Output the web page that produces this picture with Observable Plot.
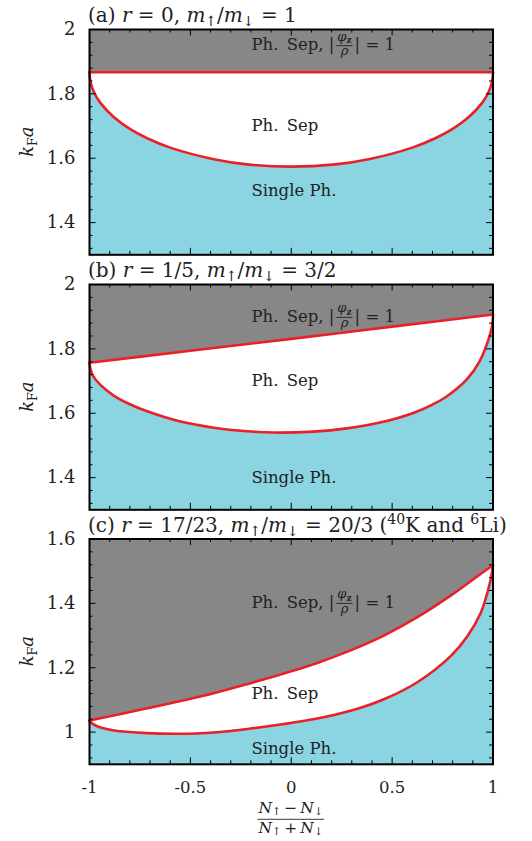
<!DOCTYPE html>
<html><head><meta charset="utf-8">
<script src="https://cdn.jsdelivr.net/npm/d3@7"></script>
<script src="https://cdn.jsdelivr.net/npm/@observablehq/plot@0.6"></script>
<style>
body{margin:0;background:#fff;}
#chart{width:532px;}
#chart svg{display:block;overflow:visible;}
</style></head><body><div id="chart"></div>
<script>
// ---------------- data ----------------
// panel (a): r = 0, m_up/m_down = 1
const upperAx = [-1, 1];
const upperAy = [1.867, 1.867];
const lowerAx = [-1, -0.995, -0.98, -0.946, -0.88, -0.8, -0.714, -0.6, -0.384, -0.219, 0, 0.219, 0.384, 0.6, 0.714, 0.8, 0.88, 0.946, 0.98, 0.995, 1];
const lowerAy = [1.867, 1.838, 1.808, 1.772, 1.728, 1.691, 1.662, 1.633, 1.597, 1.581, 1.574, 1.581, 1.597, 1.633, 1.662, 1.691, 1.728, 1.772, 1.808, 1.838, 1.867];
// panel (b): r = 1/5, m_up/m_down = 3/2
const upperBx = [-1, -0.5, 0, 0.5, 1];
const upperBy = [1.757, 1.794, 1.831, 1.869, 1.907];
const lowerBx = [-1, -0.995, -0.98, -0.946, -0.88, -0.8, -0.714, -0.549, -0.384, -0.219, -0.088, 0.11, 0.275, 0.44, 0.605, 0.7, 0.77, 0.87, 0.935, 0.977, 0.995, 1];
const lowerBy = [1.757, 1.736, 1.714, 1.688, 1.655, 1.628, 1.606, 1.574, 1.555, 1.544, 1.540, 1.543, 1.553, 1.571, 1.601, 1.627, 1.652, 1.705, 1.763, 1.828, 1.870, 1.907];
// panel (c): r = 17/23, m_up/m_down = 20/3
const upperCx = [-1, -0.714, -0.384, -0.202, -0.037, 0.129, 0.294, 0.459, 0.625, 0.79, 0.922, 1];
const upperCy = [1.036, 1.074, 1.121, 1.152, 1.182, 1.215, 1.254, 1.300, 1.357, 1.424, 1.484, 1.519];
const lowerCx = [-1, -0.98, -0.945, -0.879, -0.714, -0.565, -0.384, -0.202, -0.037, 0.129, 0.294, 0.459, 0.625, 0.79, 0.873, 0.939, 0.975, 0.992, 1];
const lowerCy = [1.036, 1.024, 1.014, 1.005, 0.997, 0.995, 0.999, 1.011, 1.025, 1.042, 1.066, 1.102, 1.155, 1.236, 1.298, 1.370, 1.440, 1.485, 1.519];

// axes
const xDomain = [-1, 1];
const xTickLabels = [-1, -0.5, 0, 0.5, 1];
const xMajor = [-0.5, 0, 0.5];
const xMinor = [-0.9, -0.8, -0.7, -0.6, -0.4, -0.3, -0.2, -0.1, 0.1, 0.2, 0.3, 0.4, 0.6, 0.7, 0.8, 0.9];
const yDomainAB = [1.3, 2.0];
const yTicksAB = [1.4, 1.6, 1.8, 2];
const yMajorAB = [1.4, 1.6, 1.8];
const yMinorAB = [1.32, 1.36, 1.44, 1.48, 1.52, 1.56, 1.64, 1.68, 1.72, 1.76, 1.84, 1.88, 1.92, 1.96];
const yDomainC = [0.9, 1.6];
const yTicksC = [1, 1.2, 1.4, 1.6];
const yMajorC = [1, 1.2, 1.4];
const yMinorC = [0.92, 0.96, 1.04, 1.08, 1.12, 1.16, 1.24, 1.28, 1.32, 1.36, 1.44, 1.48, 1.52, 1.56];

// region labels (x position, and y baselines per panel)
const regionLabelX = -0.195;
const labelYA = [1.935, 1.683, 1.481];
const labelYB = [1.883, 1.683, 1.381];
const labelYC = [1.385, 1.102, 0.932];

// titles as [text, style] parts
const titleA = [["(a) ", ""], ["r", "i"], [" = 0, ", ""], ["m", "i"], ["↑", "sub"], ["/", ""], ["m", "i"], ["↓", "sub"], [" = 1", ""]];
const titleB = [["(b) ", ""], ["r", "i"], [" = 1/5, ", ""], ["m", "i"], ["↑", "sub"], ["/", ""], ["m", "i"], ["↓", "sub"], [" = 3/2", ""]];
const titleC = [["(c) ", ""], ["r", "i"], [" = 17/23, ", ""], ["m", "i"], ["↑", "sub"], ["/", ""], ["m", "i"], ["↓", "sub"], [" = 20/3 (", ""], ["40", "sup"], ["K and ", ""], ["6", "sup"], ["Li)", ""]];
const titleWidths = [215, 262, 433];

// ---------------- style ----------------
const FONT = "'DejaVu Serif', serif";
const TXT = "#222";
const GRAY = "#878787", CYAN = "#8bd4e2", RED = "#ea2027";
const W = 532, ML = 89, MR = 39.5, FH = 225.3;
const MAJ = 6.5, MIN = 3.5;
const CURVE = "catmull-rom";

function mathText(sel, x, y, parts, fs, opts = {}) {
  const t = sel.append("text").attr("x", x).attr("y", y).attr("font-size", fs)
    .attr("font-family", FONT).attr("fill", TXT).style("white-space", "pre")
    .attr("text-anchor", opts.anchor || "start");
  if (opts.transform) t.attr("transform", opts.transform);
  const subShift = opts.subShift != null ? opts.subShift : 0.22;
  let shift = 0;
  for (const [s, k] of parts) {
    const toks = k.split(" ");
    const ts = t.append("tspan").text(s);
    let target = 0, size = fs;
    if (toks.includes("sub")) { target = subShift * fs; size = 0.7 * fs; }
    if (toks.includes("sup")) { target = -0.4 * fs; size = 0.7 * fs; }
    if (toks.includes("i")) ts.attr("font-style", "italic");
    if (toks.includes("b")) ts.attr("font-weight", "bold");
    ts.attr("font-size", size);
    if (target !== shift) { ts.attr("dy", target - shift); shift = target; }
  }
  return t;
}

function fraction(sel, x0, barY, num, den, fs, numUp, denDown, anchor, subShift) {
  const n = mathText(sel, 0, barY - numUp, num, fs, {anchor: "middle", subShift});
  const d = mathText(sel, 0, barY + denDown, den, fs, {anchor: "middle", subShift});
  const wn = n.node().getComputedTextLength(), wd = d.node().getComputedTextLength();
  const fw = Math.max(wn, wd) + 2;
  const cx = anchor === "middle" ? x0 : x0 + fw / 2;
  n.attr("x", cx); d.attr("x", cx);
  sel.append("line").attr("x1", cx - fw / 2).attr("x2", cx + fw / 2)
    .attr("y1", barY).attr("y2", barY).attr("stroke", TXT).attr("stroke-width", 0.9);
  return fw;
}

const panels = [
  {title: titleA, tw: titleWidths[0], yDomain: yDomainAB, yTicks: yTicksAB, yMajor: yMajorAB, yMinor: yMinorAB,
   upX: upperAx, upY: upperAy, loX: lowerAx, loY: lowerAy, labelY: labelYA, height: 255, top: 29, xAxis: false},
  {title: titleB, tw: titleWidths[1], yDomain: yDomainAB, yTicks: yTicksAB, yMajor: yMajorAB, yMinor: yMinorAB,
   upX: upperBx, upY: upperBy, loX: lowerBx, loY: lowerBy, labelY: labelYB, height: 255, top: 29, xAxis: false},
  {title: titleC, tw: titleWidths[2], yDomain: yDomainC, yTicks: yTicksC, yMajor: yMajorC, yMinor: yMinorC,
   upX: upperCx, upY: upperCy, loX: lowerCx, loY: lowerCy, labelY: labelYC, height: 331, top: 28.5, xAxis: true}
];

const container = document.getElementById("chart");
const FW = W - ML - MR;

for (const p of panels) {
  const up = p.upX.map((x, i) => ({x, y: p.upY[i]}));
  const lo = p.loX.map((x, i) => ({x, y: p.loY[i]}));
  const y0 = p.yDomain[0];
  const marks = [
    Plot.frame({fill: GRAY, stroke: null}),
    Plot.areaY(up, {x: "x", y1: () => y0, y2: "y", fill: "white", curve: CURVE}),
    Plot.areaY(lo, {x: "x", y1: () => y0, y2: "y", fill: CYAN, curve: CURVE}),
    Plot.line(up, {x: "x", y: "y", stroke: RED, strokeWidth: 2.6, curve: CURVE}),
    Plot.line(lo, {x: "x", y: "y", stroke: RED, strokeWidth: 2.6, curve: CURVE}),
    // inward ticks
    Plot.tickX(xMajor, {x: d => d, insetTop: FH - MAJ, stroke: "black", strokeWidth: 1}),
    Plot.tickX(xMinor, {x: d => d, insetTop: FH - MIN, stroke: "black", strokeWidth: 1}),
    Plot.tickX(xMajor, {x: d => d, insetBottom: FH - MAJ, stroke: "black", strokeWidth: 1}),
    Plot.tickX(xMinor, {x: d => d, insetBottom: FH - MIN, stroke: "black", strokeWidth: 1}),
    Plot.tickY(p.yMajor, {y: d => d, insetRight: FW - MAJ, stroke: "black", strokeWidth: 1}),
    Plot.tickY(p.yMinor, {y: d => d, insetRight: FW - MIN, stroke: "black", strokeWidth: 1}),
    Plot.tickY(p.yMajor, {y: d => d, insetLeft: FW - MAJ, stroke: "black", strokeWidth: 1}),
    Plot.tickY(p.yMinor, {y: d => d, insetLeft: FW - MIN, stroke: "black", strokeWidth: 1}),
    Plot.frame({stroke: "black", strokeWidth: 2}),
    Plot.axisY(p.yTicks, {tickSize: 0, tickPadding: 14, tickFormat: d => String(d), fontSize: 18, fontFamily: FONT, fill: TXT, label: null})
  ];
  if (p.xAxis) marks.push(Plot.axisX(xTickLabels, {tickSize: 0, tickPadding: 17, tickFormat: d => String(d), fontSize: 16.5, fontFamily: FONT, fill: TXT, label: null}));
  const svg = Plot.plot({
    width: W, height: p.height,
    marginLeft: ML, marginRight: MR, marginTop: p.top, marginBottom: p.height - p.top - FH,
    x: {domain: xDomain, axis: p.xAxis ? undefined : null, label: null},
    y: {domain: p.yDomain, label: null},
    style: {background: "none", overflow: "visible", fontFamily: FONT, color: TXT},
    marks
  });
  container.appendChild(svg);
  const sx = svg.scale("x"), sy = svg.scale("y");
  const g = d3.select(svg).append("g");
  // title, font size chosen to span the reference's width
  const probe = mathText(g, ML - 1, p.top - 7, p.title, 17);
  const pw = probe.node().getComputedTextLength();
  probe.remove();
  mathText(g, ML - 1, p.top - 7, p.title, Math.min(20, 17 * p.tw / pw));
  // y label k_F a
  const cy = p.top + FH / 2;
  mathText(g, 0, 0, [["k", "i"], ["F", "sub"], ["a", "i"]], 18,
    {anchor: "middle", transform: `translate(33,${cy}) rotate(-90)`});
  // region labels
  const lx = sx.apply(regionLabelX);
  const fs = 16.5;
  const b1 = sy.apply(p.labelY[0]);
  const t1 = mathText(g, lx, b1, [["Ph.\u2002Sep, |", ""]], fs);
  const w1 = t1.node().getComputedTextLength();
  const fw = fraction(g, lx + w1 + 2, b1 - 0.26 * fs,
    [["φ", "i"], ["z", "b sub"]], [["ρ", "i"]], 13, 5, 9.6, "start");
  mathText(g, lx + w1 + fw + 4, b1, [["| = 1", ""]], fs);
  mathText(g, lx, sy.apply(p.labelY[1]), [["Ph.\u2002Sep", ""]], fs);
  mathText(g, lx, sy.apply(p.labelY[2]), [["Single Ph.", ""]], fs);
  if (p.xAxis) {
    const fb = p.top + FH + 55.5;
    fraction(g, sx.apply(0), fb,
      [["N", "i"], ["↑", "sub"], ["\u2009−\u2009", ""], ["N", "i"], ["↓", "sub"]],
      [["N", "i"], ["↑", "sub"], ["\u2009+\u2009", ""], ["N", "i"], ["↓", "sub"]], 15.5, 6, 13.5, "middle", 0.14);
  }
}
</script></body></html>
